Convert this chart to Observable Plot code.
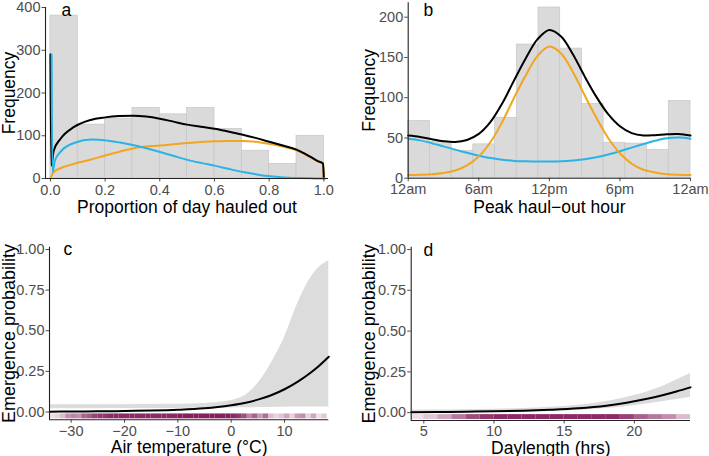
<!DOCTYPE html>
<html><head><meta charset="utf-8">
<script src="https://cdn.jsdelivr.net/npm/d3@7"></script>
<script src="https://cdn.jsdelivr.net/npm/@observablehq/plot@0.6"></script>
<style>
body{margin:0;background:#fff;}
#wrap{position:relative;width:709px;height:456px;overflow:hidden;background:#fff;font-family:"Liberation Sans",Arial,sans-serif;}
.panel{position:absolute;}
</style></head><body><div id="wrap"></div>
<script>
// ---------- panel a: proportion of day hauled out ----------
const propEdges = [0, 0.1, 0.2, 0.3, 0.4, 0.5, 0.6, 0.7, 0.8, 0.9, 1.0];
const propCounts = [381, 126, 140, 165, 150, 165, 116, 65, 34, 100];
const propTicks = [0, 0.2, 0.4, 0.6, 0.8, 1.0];
const freqTicksA = [0, 100, 200, 300, 400];
const propGrid = [0, 0.003, 0.012, 0.037, 0.085, 0.146, 0.2, 0.25, 0.305, 0.35, 0.4, 0.45, 0.5, 0.55, 0.6, 0.65, 0.7, 0.75, 0.8, 0.85, 0.9, 0.95, 0.98, 0.997, 1.0];
const blackA  = [290, 30, 65, 93, 120, 137, 143, 146, 147, 145, 140, 133, 126, 121, 116.5, 110, 103, 95, 86, 77, 67.5, 51, 40, 35, 0];
const blueA   = [290, 15, 42, 65.5, 83.5, 91, 89, 84, 77, 70, 61.5, 52, 43, 36, 29.5, 22, 15, 9.5, 5, 2.5, 1.2, 0.4, 0.1, 0, 0];
const orangeA = [0, 5, 15, 24, 34, 44, 54, 62, 71, 75, 77, 80, 83, 85.5, 87, 88, 88, 86, 81, 75, 66, 50, 40, 35, 0];

// ---------- panel b: peak haul-out hour ----------
const hourEdges = [0, 1.846, 3.692, 5.538, 7.385, 9.231, 11.077, 12.923, 14.769, 16.615, 18.462, 20.308, 22.154, 24];
const hourCounts = [71, 45, 34, 42, 75, 166, 212, 161, 92, 44, 43, 35, 96];
const hourTicks = [0, 6, 12, 18, 24];
const hourTickLabels = ["12am", "6am", "12pm", "6pm", "12am"];
const freqTicksB = [0, 50, 100, 150, 200];
const hourGrid = [0,1,2,3,4,5,6,7,8,9,10,11,12,13,14,15,16,17,18,19,20,21,22,23,24];
const blueB   = [49, 47, 43.5, 39.5, 35.5, 31.5, 28, 25, 23, 21.5, 21, 20.7, 20.7, 21, 22, 23.5, 26, 29.5, 33.5, 38, 42.5, 46.5, 49.5, 50.5, 49];
const orangeB = [4, 4.3, 5, 6.5, 9.5, 16, 27, 45, 70, 100, 128, 152, 163.5, 155, 132, 103, 75, 50, 31, 18, 10.5, 7, 5, 4.3, 4];
const blackB  = [53, 51.3, 48.5, 46, 45, 47.5, 55, 70, 93, 121.5, 149, 172.7, 184.2, 176, 154, 126.5, 101, 79.5, 64.5, 56, 53, 53.5, 54.5, 54.8, 53];

// ---------- panel c: air temperature ----------
const tempGrid  = [-34, -30, -25, -20, -15, -10, -5, -2.5, 0, 2.5, 5, 7.5, 10, 12.5, 15, 16.5, 18.3];
const tempFit   = [0.002, 0.003, 0.004, 0.006, 0.009, 0.014, 0.023, 0.031, 0.042, 0.056, 0.076, 0.103, 0.14, 0.187, 0.245, 0.285, 0.34];
const tempLower = [0.02, 0.02, 0.02, 0.021, 0.021, 0.022, 0.023, 0.024, 0.025, 0.026, 0.027, 0.028, 0.029, 0.03, 0.03, 0.03, 0.03];
const tempUpper = [0.045, 0.045, 0.045, 0.045, 0.046, 0.047, 0.052, 0.058, 0.07, 0.1, 0.175, 0.3, 0.46, 0.67, 0.83, 0.89, 0.93];
const tempTicks = [-30, -20, -10, 0, 10];
const probTicks = [0, 0.25, 0.5, 0.75, 1];
const tempRugEdges = [-34,-33,-32,-31,-30,-29,-28,-27,-26,-25,-24,-23,-22,-21,-20,-19,-18,-17,-16,-15,-14,-13,-12,-11,-10,-9,-8,-7,-6,-5,-4,-3,-2,-1,0,1,2,3,4,5,6,7,8,9,10,11,12,13,14,15,16,17,18];
const tempRugDensity = [0.15,0.2,0.3,0.5,0.55,0.5,0.7,0.75,0.85,0.9,0.9,0.95,0.95,0.95,0.95,0.95,0.95,0.95,0.95,0.95,0.95,0.95,0.95,0.95,1,1,1,1,1,1,1,1,1,1,0.95,0.9,0.8,0.55,0.7,0.45,0.65,0.3,0.2,0.25,0.4,0.2,0.45,0.5,0.2,0.4,0.15,0.25];

// ---------- panel d: daylength ----------
const dayGrid  = [4.1, 6, 8, 10, 12, 14, 16, 18, 19, 20, 21, 22, 23, 24];
const dayFit   = [0.003, 0.004, 0.006, 0.008, 0.012, 0.018, 0.027, 0.043, 0.055, 0.07, 0.087, 0.107, 0.13, 0.155];
const dayLower = [0, 0, 0, 0.001, 0.003, 0.007, 0.013, 0.025, 0.033, 0.043, 0.055, 0.067, 0.08, 0.095];
const dayUpper = [0.015, 0.016, 0.018, 0.021, 0.026, 0.033, 0.045, 0.068, 0.085, 0.105, 0.13, 0.16, 0.2, 0.24];
const dayTicks = [5, 10, 15, 20];
const dayRugEdges = [4.1,5,6,7,8,9,10,11,12,13,14,15,16,17,18,19,20,21,22,23,24];
const dayRugDensity = [0.15,0.25,0.4,0.6,0.8,0.9,0.95,0.95,0.95,0.95,0.95,0.95,0.95,0.95,0.95,0.85,0.7,0.6,0.5,0.3];

// ---------- build ----------
const FONT = '"Liberation Sans", Arial, sans-serif';
const ORANGE = "#F2A51E", BLUE = "#29B3E6", BAR = "#dadada", BAR_STROKE = "#c6c6c6", RIBBON = "#dcdcdc", RUG = "#85205e";
const wrap = document.getElementById("wrap");
function place(svg, left, top) {
  const d = document.createElement("div");
  d.className = "panel"; d.style.left = left + "px"; d.style.top = top + "px";
  d.appendChild(svg); wrap.appendChild(d);
}
const AX = {fontSize: 14.5, color: "#4d4d4d", tickSize: 3.5, label: null};
function axes(xd, yd, xOpts, yOpts) {
  return [
    Plot.axisX({...AX, tickPadding: 2.5, ...xOpts}),
    Plot.axisY({...AX, tickPadding: 1.5, ...yOpts}),
    Plot.ruleX([xd[0]], {stroke: "#222", strokeWidth: 1.1}),
    Plot.ruleY([yd[0]], {stroke: "#222", strokeWidth: 1.1})
  ];
}
const TS = 17.5;
const xTitle = (t, dy) => Plot.text([t], {text: d => d, frameAnchor: "bottom", lineAnchor: "bottom", textAnchor: "middle", dy, fontSize: TS, fill: "#000"});
const yTitle = (t, dx, fs = TS) => Plot.text([t], {text: d => d, frameAnchor: "left", lineAnchor: "bottom", textAnchor: "middle", rotate: -90, dx, fontSize: fs, fill: "#000"});
const letter = (t, dx, dy) => Plot.text([t], {text: d => d, frameAnchor: "top-left", textAnchor: "start", lineAnchor: "bottom", dx, dy, fontSize: TS, fill: "#000"});
const style = {fontFamily: FONT, background: "transparent", overflow: "visible"};

// panel a
{
  const bins = propCounts.map((c, i) => ({x1: propEdges[i], x2: propEdges[i + 1], c}));
  const rows = propGrid.map((p, i) => ({p, k: blackA[i], b: blueA[i], o: orangeA[i]}));
  const xd = [-0.018, 1.017], yd = [0, 400];
  const svg = Plot.plot({
    width: 350, height: 218, marginLeft: 45, marginRight: 22, marginTop: 7, marginBottom: 40,
    x: {domain: xd}, y: {domain: yd}, style,
    marks: [
      Plot.rect(bins, {x1: "x1", x2: "x2", y1: () => 0, y2: "c", fill: BAR, stroke: BAR_STROKE, strokeWidth: 0.7}),
      Plot.line(rows, {x: "p", y: "o", stroke: ORANGE, strokeWidth: 2, curve: "monotone-x"}),
      Plot.line(rows, {x: "p", y: "k", stroke: "#000", strokeWidth: 2, curve: "monotone-x"}),
      Plot.line(rows, {x: "p", y: "b", stroke: BLUE, strokeWidth: 2, curve: "monotone-x", dx: 1.2}),
      ...axes(xd, yd, {ticks: propTicks, tickFormat: d3.format(".1f")}, {ticks: freqTicksA}),
      xTitle("Proportion of day hauled out", 34),
      yTitle("Frequency", -31),
      letter("a", 16, 8)
    ]
  });
  place(svg, 0, 0);
}
// panel b
{
  const bins = hourCounts.map((c, i) => ({x1: hourEdges[i], x2: hourEdges[i + 1], c}));
  const rows = hourGrid.map((h, i) => ({h, k: blackB[i], b: blueB[i], o: orangeB[i]}));
  const xd = [0, 24], yd = [0, 218];
  const svg = Plot.plot({
    width: 354, height: 218, marginLeft: 52.7, marginRight: 19, marginTop: 2.2, marginBottom: 40.3,
    x: {domain: xd}, y: {domain: yd}, style,
    marks: [
      Plot.rect(bins, {x1: "x1", x2: "x2", y1: () => 0, y2: "c", fill: BAR, stroke: BAR_STROKE, strokeWidth: 0.7}),
      Plot.line(rows, {x: "h", y: "b", stroke: BLUE, strokeWidth: 2, curve: "catmull-rom"}),
      Plot.line(rows, {x: "h", y: "o", stroke: ORANGE, strokeWidth: 2, curve: "catmull-rom"}),
      Plot.line(rows, {x: "h", y: "k", stroke: "#000", strokeWidth: 2, curve: "catmull-rom"}),
      ...axes(xd, yd, {ticks: hourTicks, tickFormat: (d, i) => hourTickLabels[i]}, {ticks: freqTicksB}),
      xTitle("Peak haul\u2212out hour", 34.5),
      yTitle("Frequency", -33.5),
      letter("b", 15.3, 13)
    ]
  });
  place(svg, 355, 0);
}
// panel c
{
  const rows = tempGrid.map((t, i) => ({t, f: tempFit[i], lo: tempLower[i], hi: tempUpper[i]}));
  const rug = tempRugDensity.map((v, i) => ({x1: tempRugEdges[i], x2: tempRugEdges[i + 1], v}));
  const xd = [-34.06, 18.3], yd = [-0.048, 1.014];
  const svg = Plot.plot({
    width: 350, height: 236, marginLeft: 49, marginRight: 21.7, marginTop: 26.7, marginBottom: 36.7,
    x: {domain: xd}, y: {domain: yd}, opacity: {type: "identity"}, style,
    marks: [
      Plot.areaY(rows, {x: "t", y1: "lo", y2: "hi", fill: RIBBON, curve: "monotone-x"}),
      Plot.rect(rug, {x1: "x1", x2: "x2", y1: () => -0.012, y2: () => -0.042, fill: RUG, fillOpacity: "v"}),
      Plot.line(rows, {x: "t", y: "f", stroke: "#000", strokeWidth: 2, curve: "monotone-x"}),
      ...axes(xd, yd, {ticks: tempTicks, tickPadding: 2}, {ticks: probTicks, tickFormat: d3.format(".2f")}),
      xTitle("Air temperature (\u00b0C)", 33.5),
      yTitle("Emergence probability", -34.5, 18),
      letter("c", 14, 7.8)
    ]
  });
  place(svg, 0, 220);
}
// panel d
{
  const rows = dayGrid.map((t, i) => ({t, f: dayFit[i], lo: dayLower[i], hi: dayUpper[i]}));
  const rug = dayRugDensity.map((v, i) => ({x1: dayRugEdges[i], x2: dayRugEdges[i + 1], v}));
  const xd = [4.1, 24], yd = [-0.048, 1.014];
  const svg = Plot.plot({
    width: 354, height: 236, marginLeft: 55.7, marginRight: 19, marginTop: 26.7, marginBottom: 36,
    x: {domain: xd}, y: {domain: yd}, opacity: {type: "identity"}, style,
    marks: [
      Plot.areaY(rows, {x: "t", y1: "lo", y2: "hi", fill: RIBBON, curve: "monotone-x"}),
      Plot.rect(rug, {x1: "x1", x2: "x2", y1: () => -0.012, y2: () => -0.042, fill: RUG, fillOpacity: "v"}),
      Plot.line(rows, {x: "t", y: "f", stroke: "#000", strokeWidth: 2, curve: "monotone-x"}),
      ...axes(xd, yd, {ticks: dayTicks, tickPadding: 2}, {ticks: probTicks, tickFormat: d3.format(".2f")}),
      xTitle("Daylength (hrs)", 33),
      yTitle("Emergence probability", -36.2, 18),
      letter("d", 12.3, 8.3)
    ]
  });
  place(svg, 355, 220);
}
</script>
</body></html>
